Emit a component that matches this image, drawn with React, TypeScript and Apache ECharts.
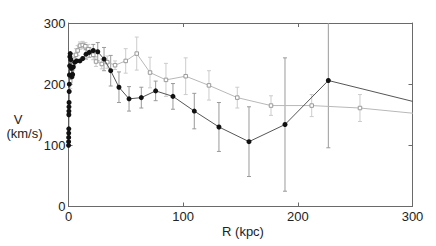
import React, { useEffect, useRef } from "react";
import * as echarts from "echarts";

// Filled circles (black series)
const blackR = [0.05, 0.1, 0.15, 0.2, 0.25, 0.3, 0.35, 0.4, 0.5, 0.6, 0.7, 0.8, 1.0, 1.2, 1.5, 2.0, 2.5, 3.0, 3.6, 4.2, 5.5, 7.2, 10.0, 12.4, 15.3, 18.1, 21.6, 25.5, 31.0, 36.8, 44.0, 52.8, 63.5, 76.0, 91.1, 109.7, 131.2, 157.4, 188.8, 226.6, 330];
const blackV = [100, 106, 113, 120, 127, 150, 156, 163, 170, 188, 200, 215, 230, 245, 250, 240, 226, 212, 216, 228, 236, 238, 238, 242, 249, 252, 255, 253, 241, 222, 195, 176, 178, 189, 180, 156, 130, 106, 134, 206, 158];
const blackErr = [0, 0, 0, 0, 0, 0, 0, 0, 0, 0, 0, 0, 0, 0, 0, 0, 0, 0, 0, 0, 0, 0, 0, 0, 8, 8, 10, 15, 19, 25, 25, 20, 17, 16, 21, 29, 40, 57, 109, 110, 0];

// Open squares (grey series)
const greyR = [1.5, 2.0, 2.5, 3.0, 4.0, 5.0, 6.5, 8.0, 10.0, 12.4, 14.7, 17.3, 21.6, 24.0, 29.0, 33.8, 40.6, 49.9, 59.5, 71.1, 85.0, 102.2, 122.5, 147.2, 176.6, 212.1, 254.2, 330];
const greyV = [205, 212, 220, 226, 232, 240, 248, 255, 263, 264, 262, 257, 248, 237, 233, 236, 231, 238, 250, 219, 207, 213, 198, 178, 165, 165, 161, 147];
const greyErr = [12, 12, 10, 10, 10, 10, 10, 8, 6, 6, 6, 8, 8, 8, 8, 10, 7, 20, 27, 25, 27, 30, 24, 17, 16, 18, 22, 0];

const xTicks = [0, 100, 200, 300];
const yTicks = [0, 100, 200, 300];

const FONT = "Liberation Sans, Arial, sans-serif";

function errData(r: number[], v: number[], e: number[]) {
  return r.map((x, i) => [x, v[i], e[i]]).filter((d) => d[2] > 0);
}

function errRender(color: string) {
  return (params: any, api: any) => {
    const x = api.value(0);
    const y = api.value(1);
    const e = api.value(2);
    const top = api.coord([x, y + e]);
    const bot = api.coord([x, y - e]);
    const hw = 2;
    const st = { stroke: color, lineWidth: 1 };
    return {
      type: "group",
      children: [
        { type: "line", shape: { x1: top[0], y1: top[1], x2: bot[0], y2: bot[1] }, style: st },
        { type: "line", shape: { x1: top[0] - hw, y1: top[1], x2: top[0] + hw, y2: top[1] }, style: st },
        { type: "line", shape: { x1: bot[0] - hw, y1: bot[1], x2: bot[0] + hw, y2: bot[1] }, style: st },
      ],
    };
  };
}

export default function App() {
  const ref = useRef<HTMLDivElement>(null);
  useEffect(() => {
    if (!ref.current) return;
    const chart = echarts.init(ref.current, null, { renderer: "svg" });
    const axisLine = { show: true, onZero: false, lineStyle: { color: "#6a6a6a", width: 1 } };
    const tick = { show: true, inside: true, length: 4, lineStyle: { color: "#6a6a6a" } };
    const label = { color: "#222", fontSize: 13, fontFamily: FONT };
    chart.setOption({
      animation: false,
      backgroundColor: "#fff",
      grid: { left: 68.5, top: 23, right: 23.5, bottom: 39.5, containLabel: false },
      xAxis: [
        {
          type: "value", min: xTicks[0], max: xTicks[xTicks.length - 1], interval: 100,
          position: "bottom", axisLine, axisTick: tick, splitLine: { show: false },
          axisLabel: { ...label, margin: 3 },
        },
        {
          type: "value", min: xTicks[0], max: xTicks[xTicks.length - 1], interval: 100,
          position: "top", axisLine, axisTick: tick, splitLine: { show: false },
          axisLabel: { show: false },
        },
      ],
      yAxis: [
        {
          type: "value", min: yTicks[0], max: yTicks[yTicks.length - 1], interval: 100,
          position: "left", axisLine, axisTick: tick, splitLine: { show: false },
          axisLabel: { ...label, margin: 3 },
        },
        {
          type: "value", min: yTicks[0], max: yTicks[yTicks.length - 1], interval: 100,
          position: "right", axisLine, axisTick: tick, splitLine: { show: false },
          axisLabel: { show: false },
        },
      ],
      graphic: [
        { type: "text", x: 18, y: 119, style: { text: "V", fontSize: 13, fontFamily: FONT, fill: "#222", align: "center", verticalAlign: "middle" } },
        { type: "text", x: 24.5, y: 133, style: { text: "(km/s)", fontSize: 13, fontFamily: FONT, fill: "#222", align: "center", verticalAlign: "middle" } },
        { type: "text", x: 243, y: 231.5, style: { text: "R (kpc)", fontSize: 13, fontFamily: FONT, fill: "#222", align: "center", verticalAlign: "middle" } },
      ],
      series: [
        {
          type: "custom", clip: true, z: 1,
          renderItem: errRender("#cccccc"),
          data: errData(greyR, greyV, greyErr),
        },
        {
          type: "custom", clip: true, z: 1,
          renderItem: errRender("#9a9a9a"),
          data: errData(blackR, blackV, blackErr),
        },
        {
          type: "line", clip: true, z: 2,
          data: greyR.map((r, i) => [r, greyV[i]]),
          lineStyle: { color: "#b8b8b8", width: 1 },
          symbol: "rect", symbolSize: 3.5,
          itemStyle: { color: "#fff", borderColor: "#9a9a9a", borderWidth: 1 },
        },
        {
          type: "line", clip: true, z: 3,
          data: blackR.map((r, i) => [r, blackV[i]]),
          lineStyle: { color: "#555", width: 1 },
          symbol: "circle", symbolSize: 5,
          itemStyle: { color: "#111", borderColor: "#111", borderWidth: 0 },
        },
      ],
    });
    return () => chart.dispose();
  }, []);
  return <div ref={ref} style={{ position: "fixed", left: 0, top: 0, width: 436, height: 246 }} />;
}
